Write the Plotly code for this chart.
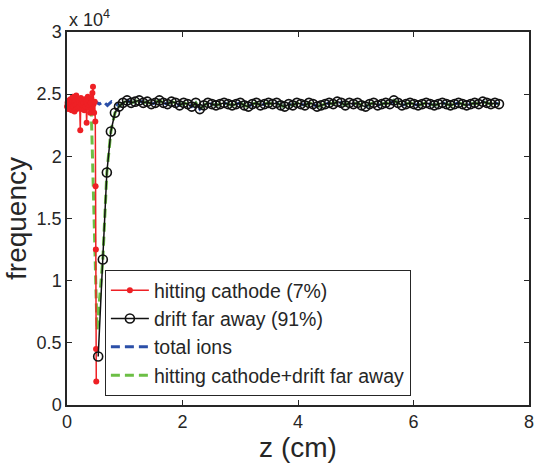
import plotly.graph_objects as go

# ---- data ----
hit_z = [0.00, 0.01, 0.02, 0.03, 0.04, 0.05, 0.06, 0.07, 0.08, 0.09,
         0.10, 0.11, 0.12, 0.13, 0.14, 0.15, 0.16, 0.17, 0.18, 0.19,
         0.20, 0.21, 0.22, 0.23, 0.24, 0.25, 0.26, 0.27, 0.28, 0.29,
         0.30, 0.31, 0.32, 0.33, 0.34, 0.35, 0.36, 0.37, 0.38, 0.39,
         0.40, 0.41, 0.42, 0.43, 0.44, 0.45, 0.46, 0.47, 0.48, 0.49,
         0.495, 0.50, 0.503, 0.507]
hit_val = [24000, 24300, 23800, 24500, 24100, 23900, 24600, 24200, 23700, 24400,
           24800, 24000, 24300, 23600, 24500, 24100, 24900, 23800, 24200, 24600,
           23900, 24400, 24000, 22100, 24700, 24200, 23800, 24500, 24100, 24300,
           23700, 24600, 24000, 24400, 22700, 24200, 24800, 23900, 24500, 24100,
           23500, 24300, 24700, 23800, 25100, 25600, 24200, 23500, 24400, 22800,
           17600, 12500, 4500, 1900]

drift_z = [0.54, 0.62, 0.69, 0.76, 0.83, 0.90, 0.97, 1.04, 1.11, 1.18,
           1.25, 1.32, 1.39, 1.46, 1.53, 1.60, 1.67, 1.74, 1.81, 1.88,
           1.95, 2.02, 2.09, 2.16, 2.23, 2.30, 2.37, 2.44, 2.51, 2.58,
           2.65, 2.72, 2.79, 2.86, 2.93, 3.00, 3.07, 3.14, 3.21, 3.28,
           3.35, 3.42, 3.49, 3.56, 3.63, 3.70, 3.77, 3.84, 3.91, 3.98,
           4.05, 4.12, 4.19, 4.26, 4.33, 4.40, 4.47, 4.54, 4.61, 4.68,
           4.75, 4.82, 4.89, 4.96, 5.03, 5.10, 5.17, 5.24, 5.31, 5.38,
           5.45, 5.52, 5.59, 5.66, 5.73, 5.80, 5.87, 5.94, 6.01, 6.08,
           6.15, 6.22, 6.29, 6.36, 6.43, 6.50, 6.57, 6.64, 6.71, 6.78,
           6.85, 6.92, 6.99, 7.06, 7.13, 7.20, 7.27, 7.34, 7.41, 7.48]
drift_val = [3900, 11700, 18700, 22000, 23500, 24000, 24300, 24500, 24300, 24400,
             24500, 24300, 24400, 24200, 24300, 24500, 24300, 24200, 24400, 24300,
             24100, 24300, 24200, 24000, 24300, 23800, 24100, 24300, 24200, 24100,
             24200, 24300, 24200, 24100, 24200, 24300, 24100, 24000, 24200, 24300,
             24100, 24200, 24300, 24200, 24300, 24100, 24000, 24200, 24100, 24300,
             24200, 24100, 24300, 24200, 24000, 24100, 24200, 24300, 24200, 24400,
             24300, 24100, 24300, 24200, 24300, 24100, 24000, 24200, 24300, 24100,
             24200, 24300, 24200, 24500, 24300, 24100, 24200, 24300, 24200, 24100,
             24200, 24300, 24200, 24100, 24200, 24300, 24200, 24100, 24200, 24300,
             24200, 24100, 24200, 24300, 24200, 24400, 24300, 24200, 24300, 24200]

total_z_head = [0.00, 0.07, 0.14, 0.21, 0.28, 0.35, 0.42, 0.49, 0.56, 0.63, 0.70, 0.77, 0.84]
total_val_head = [24200, 24300, 24100, 24200, 24300, 24200, 24300, 24400, 24200, 24400, 24100, 24400, 24300]

sum_z_head = [0.00, 0.07, 0.14, 0.21, 0.28, 0.35, 0.42, 0.52]
sum_val_head = [24100, 24200, 24000, 24300, 24100, 24200, 23700, 6000]

total_z = total_z_head + drift_z[5:]
total_val = total_val_head + drift_val[5:]
sum_z = sum_z_head + drift_z[1:]
sum_val = sum_val_head + drift_val[1:]

y_tickvals = [0, 5000, 10000, 15000, 20000, 25000, 30000]
y_ticktext = ["0", "0.5", "1", "1.5", "2", "2.5", "3"]
x_tickvals = [0, 2, 4, 6, 8]

FONT = "Liberation Sans, Arial, Helvetica, sans-serif"
AX = "#262626"

fig = go.Figure()

fig.add_trace(go.Scatter(
    x=total_z, y=total_val, mode="lines", name="total ions",
    line=dict(color="#2b4fa8", width=3, dash="9px,5px"), legendrank=3))
fig.add_trace(go.Scatter(
    x=sum_z, y=sum_val, mode="lines", name="hitting cathode+drift far away",
    line=dict(color="#6cbf45", width=3, dash="9px,5px"), legendrank=4))
fig.add_trace(go.Scatter(
    x=hit_z, y=hit_val, mode="lines+markers", name="hitting cathode (7%)",
    line=dict(color="#ee2025", width=1.5),
    marker=dict(color="#ee2025", size=6, symbol="circle"),
    cliponaxis=False, legendrank=1))
fig.add_trace(go.Scatter(
    x=drift_z, y=drift_val, mode="lines+markers", name="drift far away (91%)",
    line=dict(color="#111111", width=1.5),
    marker=dict(symbol="circle-open", size=9, color="#111111", line=dict(width=1.6)),
    cliponaxis=False, legendrank=2))

fig.update_layout(
    width=535, height=466,
    margin=dict(l=67, r=6, t=32, b=61),
    paper_bgcolor="white", plot_bgcolor="white",
    font=dict(family=FONT, color=AX, size=18),
    legend=dict(
        x=0.082, y=0.362, xanchor="left", yanchor="top",
        bgcolor="white", bordercolor=AX, borderwidth=1,
        font=dict(family=FONT, size=19.5, color=AX),
        tracegroupgap=0, itemwidth=38),
    xaxis=dict(
        range=[0, 8], tickvals=x_tickvals, ticks="inside", ticklen=5,
        tickcolor=AX, showline=True, linecolor=AX, linewidth=1.5,
        mirror="ticks", showgrid=False, zeroline=False, automargin=False,
        tickfont=dict(size=18, color=AX),
        title=dict(text="z (cm)", font=dict(size=28, color=AX), standoff=6)),
    yaxis=dict(
        range=[0, 30000], tickvals=y_tickvals, ticktext=y_ticktext,
        ticks="inside", ticklen=5, tickcolor=AX, showline=True,
        linecolor=AX, linewidth=1.5, mirror="ticks", showgrid=False,
        zeroline=False, automargin=False, tickfont=dict(size=18, color=AX),
        title=dict(text="frequency", font=dict(size=28, color=AX), standoff=2)),
    annotations=[dict(
        text="x 10<sup>4</sup>", xref="paper", yref="paper", x=0, y=1,
        xanchor="left", yanchor="bottom", showarrow=False, yshift=0,
        font=dict(size=18, color=AX, family=FONT))],
)

fig.write_html(
    "out.html",
    config={"displayModeBar": False},
    post_script="document.body.style.margin='0';document.body.style.overflow='hidden';",
)
